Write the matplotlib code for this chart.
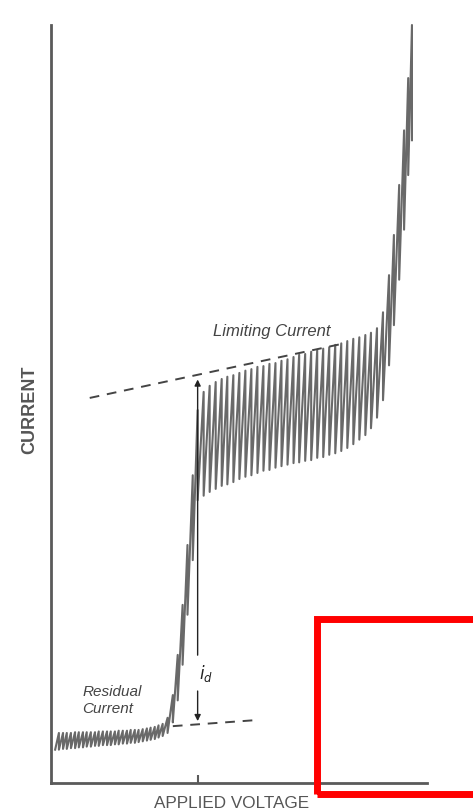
import matplotlib
matplotlib.use("Agg")
import matplotlib.pyplot as plt
from matplotlib.patches import Rectangle
import numpy as np

plt.rcParams['font.family'] = ['Liberation Sans', 'DejaVu Sans']

# Polarogram, arbitrary units: applied voltage 0-100, current 0-100.
# Each drop: voltage at drop fall, current just before fall (top) and just after (bottom)
residual_v = [1.1, 2.1, 3.2, 4.2, 5.3, 6.4, 7.4, 8.5, 9.5, 10.6, 11.7, 12.7, 13.8, 14.9,
              15.9, 17.0, 18.0, 19.1, 20.2, 21.2, 22.3, 23.3, 24.4, 25.5, 26.5, 27.6, 28.6, 29.7]
residual_top = [6.6, 6.6, 6.6, 6.6, 6.6, 6.7, 6.7, 6.7, 6.7, 6.7, 6.7, 6.8, 6.8, 6.8,
                6.8, 6.8, 6.9, 6.9, 6.9, 7.0, 7.0, 7.0, 7.1, 7.2, 7.3, 7.4, 7.6, 7.8]
residual_bot = [4.4, 4.4, 4.5, 4.5, 4.6, 4.6, 4.7, 4.7, 4.8, 4.8, 4.9, 4.9, 5.0, 5.0,
                5.0, 5.1, 5.1, 5.2, 5.2, 5.3, 5.3, 5.4, 5.5, 5.6, 5.7, 5.8, 6.0, 6.2]

rise_v = [31.0, 32.4, 33.7, 35.0, 36.3, 37.7, 39.0]
rise_top = [8.6, 11.6, 16.9, 23.5, 31.4, 40.6, 49.2]
rise_bot = [6.6, 8.0, 10.9, 15.6, 22.2, 29.4, 37.3]

plateau_v = [40.6, 42.2, 43.8, 45.4, 46.9, 48.5, 50.1, 51.7, 53.3, 54.9, 56.5, 58.1, 59.7, 61.3, 62.9,
             64.5, 66.0, 67.6, 69.2, 70.8, 72.4, 74.0, 75.6, 77.2, 78.8, 80.4, 82.0, 83.6, 85.1, 86.7]
plateau_top = [51.6, 52.4, 52.9, 53.3, 53.6, 53.8, 54.1, 54.4, 54.6, 54.9, 55.0, 55.3, 55.4, 55.7, 55.9,
               56.2, 56.5, 56.6, 56.9, 57.1, 57.3, 57.5, 57.8, 58.0, 58.3, 58.6, 58.8, 59.1, 59.4, 60.0]
plateau_bot = [37.9, 38.4, 38.8, 39.2, 39.4, 39.7, 40.1, 40.4, 40.6, 40.9, 41.2, 41.3, 41.6, 41.8, 42.0,
               42.2, 42.3, 42.5, 42.6, 42.9, 43.0, 43.3, 43.5, 43.8, 44.2, 44.7, 45.3, 45.9, 46.8, 48.2]

final_v = [88.3, 89.9, 91.2, 92.6, 93.9, 95.0, 96.0]
final_top = [62.1, 67.0, 72.3, 78.9, 86.1, 93.0, 100.0]
final_bot = [50.5, 55.1, 60.4, 66.4, 73.0, 80.2, 84.8]

# extrapolated limiting and residual current lines
limiting_v = [10.3, 78.0]
limiting_i = [50.8, 58.0]
resid_line_v = [32.4, 54.6]
resid_line_i = [7.5, 8.3]
id_v = 39.0

drop_v = residual_v + rise_v + plateau_v + final_v
drop_top = residual_top + rise_top + plateau_top + final_top
drop_bot = residual_bot + rise_bot + plateau_bot + final_bot

# build sawtooth: current grows during drop life, falls when drop detaches
xs, ys = [drop_v[0]], [drop_bot[0]]
for v, t, b in zip(drop_v[1:], drop_top[1:], drop_bot[1:]):
    xs += [v, v]
    ys += [t, b]

fig = plt.figure(figsize=(4.73, 8.10), dpi=100)
ax = fig.add_axes([51 / 473, 27 / 810, 376 / 473, 758 / 810])
ax.set_xlim(0, 100)
ax.set_ylim(0, 100)

ax.plot(xs, ys, color='#2a2a2a', lw=1.5, alpha=0.7, clip_on=False)

ax.plot(limiting_v, limiting_i, color='#444444', lw=1.4, ls=(0, (5, 4)))
ax.plot(resid_line_v, resid_line_i, color='#444444', lw=1.4, ls=(0, (5, 4)))

# diffusion current arrows
ax.annotate('', xy=(id_v, 53.6), xytext=(id_v, 16.5),
            arrowprops=dict(arrowstyle='-|>', color='#222222', lw=1.0, mutation_scale=9))
ax.annotate('', xy=(id_v, 7.8), xytext=(id_v, 12.5),
            arrowprops=dict(arrowstyle='-|>', color='#222222', lw=1.0, mutation_scale=9))
ax.text(id_v + 0.3, 14.5, r'$i_d$', fontsize=12, ha='left', va='center', color='#222222')

ax.text(58.6, 59.6, 'Limiting Current', fontsize=12, style='italic', color='#444444',
        ha='center', va='center')
ax.text(8.3, 10.9, 'Residual\nCurrent', fontsize=11, style='italic', color='#444444',
        ha='left', va='center', linespacing=1.3)

for s in ['top', 'right']:
    ax.spines[s].set_visible(False)
for s in ['left', 'bottom']:
    ax.spines[s].set_color('#5a5a5a')
    ax.spines[s].set_linewidth(2.0)
ax.set_xticks([id_v])
ax.set_xticklabels([])
ax.set_yticks([])
ax.tick_params(axis='x', direction='in', length=6, width=1.5, color='#5a5a5a')

fig.text(30 / 473, 1 - 410 / 810, 'CURRENT', rotation=90, fontsize=13, fontweight='bold',
         color='#555555', ha='center', va='center')
fig.text(232 / 473, 1 - 803 / 810, 'APPLIED VOLTAGE', fontsize=12.3, color='#555555',
         ha='center', va='center')

# highlight box in the lower right corner
fig.patches.append(Rectangle((316.5 / 473, 1 - 793.5 / 810), 200 / 473, 175 / 810,
                             transform=fig.transFigure, fill=False, edgecolor='#ff0000',
                             lw=5, clip_on=False))

fig.savefig('out.png', dpi=100, facecolor='white')
